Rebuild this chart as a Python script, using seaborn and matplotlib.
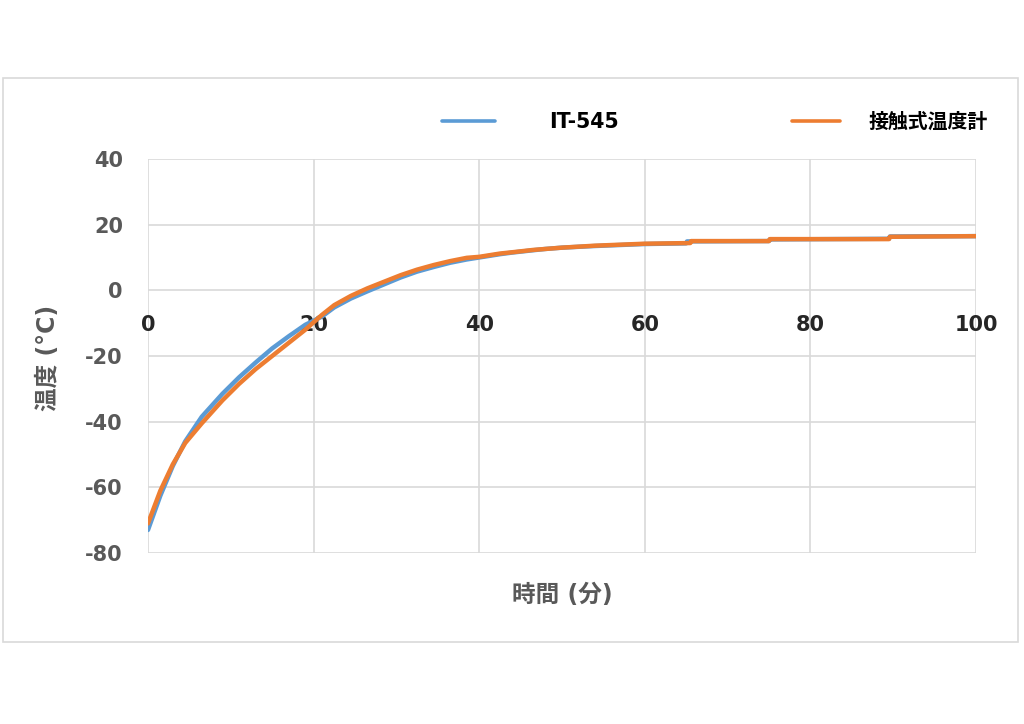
import pandas as pd
import seaborn as sns
import matplotlib.pyplot as plt
from matplotlib.patches import Rectangle

# values (minutes, deg C)
time_it = [0, 1.5, 3, 4.5, 6.5, 9, 11, 13, 15, 17, 19, 21, 22.5, 24.5, 26.5, 28.5,
           30.5, 32.5, 34.5, 36.5, 38.5, 40, 42.5, 44, 46.5, 48, 50, 54, 60,
           65, 65.1, 75, 75.1, 89.5, 89.6, 100]
temp_it = [-73, -62.5, -53.5, -46, -38.5, -31.5, -26.5, -22, -17.7, -14, -10.5, -8,
           -5.2, -2.5, -0.3, 1.8, 3.9, 5.7, 7.1, 8.4, 9.4, 10.0, 11.0, 11.5, 12.2,
           12.6, 13.0, 13.5, 14.1, 14.3, 14.9, 15.0, 15.5, 15.7, 16.4, 16.5]

time_ref = [0, 1.5, 3, 4.5, 6.5, 9, 11, 13, 15, 17, 19, 21, 22.5, 24.5, 26.5, 28.5,
            30.5, 32.5, 34.5, 36.5, 38.5, 40, 42.5, 44, 46.5, 48, 50, 54, 60,
            65.5, 65.6, 75, 75.1, 89.5, 89.6, 100]
temp_ref = [-71, -61, -53, -46.5, -40.5, -33.5, -28.5, -24, -20, -16, -12, -7.5,
            -4.5, -1.7, 0.6, 2.6, 4.6, 6.3, 7.7, 8.9, 9.9, 10.2, 11.2, 11.6, 12.3,
            12.6, 13.0, 13.6, 14.2, 14.4, 15.0, 15.0, 15.6, 15.6, 16.3, 16.5]

x_ticks = [0, 20, 40, 60, 80, 100]
y_ticks = [-80, -60, -40, -20, 0, 20, 40]

labels = ['IT-545', '接触式温度計']
colors = ['#5b9bd5', '#ed7d31']

sns.set_theme(style='white')
plt.rcParams['font.family'] = ['DejaVu Sans', 'Noto Sans CJK JP']
plt.rcParams['axes.unicode_minus'] = False

fig = plt.figure(figsize=(10.24, 7.24), dpi=100)
ax = fig.add_axes([0.1445, 0.2362, 0.8086, 0.5442])

# outer chart border
fig.patches.append(Rectangle((0.003, 0.1133), 0.991, 0.779, transform=fig.transFigure,
                             fill=False, edgecolor='#d9d9d9', linewidth=1.2))

df_it = pd.DataFrame({'time': time_it, 'temp': temp_it})
df_ref = pd.DataFrame({'time': time_ref, 'temp': temp_ref})
sns.lineplot(data=df_it, x='time', y='temp', ax=ax, color=colors[0], linewidth=3.2,
             label=labels[0], sort=False)
sns.lineplot(data=df_ref, x='time', y='temp', ax=ax, color=colors[1], linewidth=3.2,
             label=labels[1], sort=False)

ax.set_xlim(0, 100)
ax.set_ylim(-80, 40)
ax.set_xticks(x_ticks)
ax.set_yticks(y_ticks)
ax.grid(True, color='#d9d9d9', linewidth=1.2)
ax.set_axisbelow(True)
for s in ax.spines.values():
    s.set_visible(False)
ax.spines['bottom'].set_position(('data', 0))

ax.tick_params(axis='x', length=0, pad=18, labelsize=15, labelcolor='#262626')
ax.tick_params(axis='y', length=0, pad=18, labelsize=15, labelcolor='#595959')
for t in ax.get_xticklabels() + ax.get_yticklabels():
    t.set_fontweight('bold')

ax.set_xlabel('時間 (分)', fontsize=17, fontweight='bold', color='#595959')
ax.set_ylabel('温度 (°C)', fontsize=17, fontweight='bold', color='#595959')
ax.xaxis.label.set_va('center')
ax.yaxis.label.set_va('center')
ax.xaxis.set_label_coords(0.5, -0.107)
ax.yaxis.set_label_coords(-0.121, 0.495)

# legend: two entries spaced like the original
handles, _ = ax.get_legend_handles_labels()
leg1 = ax.legend([handles[0]], [labels[0]], loc='center', bbox_to_anchor=(0.518, 0.8315),
                 bbox_transform=fig.transFigure, frameon=False, handlelength=2.55,
                 handletextpad=2.65, prop={'weight': 'bold', 'size': 14.8})
ax.add_artist(leg1)
leg2 = ax.legend([handles[1]], [labels[1]], loc='center', bbox_to_anchor=(0.869, 0.8315),
                 bbox_transform=fig.transFigure, frameon=False, handlelength=2.45,
                 handletextpad=1.45, prop={'weight': 'bold', 'size': 14.3})
for leg in (leg1, leg2):
    for t in leg.get_texts():
        t.set_color('black')
    for h in leg.get_lines():
        h.set_linewidth(2.6)

fig.savefig('out.png', dpi=100, facecolor='white')
